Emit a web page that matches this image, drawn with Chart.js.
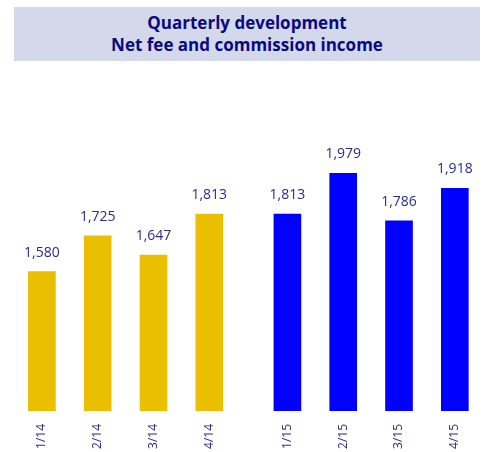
<!DOCTYPE html>
<html>
<head>
<meta charset="utf-8">
<script src="https://cdn.jsdelivr.net/npm/chart.js@4"></script>
<style>
    html, body { margin: 0; padding: 0; background: #fff; }
    #wrap { position: relative; width: 483px; height: 452px; }
    #titleBox {
        position: absolute; left: 14px; top: 7px; width: 466px; height: 54px;
        background: #d3d8ea; color: #0a0a80;
        font-family: "Open Sans", sans-serif; font-weight: bold; font-size: 17px;
        line-height: 22px; text-align: center;
        display: flex; flex-direction: column; justify-content: center;
    }
    canvas { position: absolute; left: 0; top: 0; }
</style>
</head>
<body>
<div id="wrap">
    <canvas id="feeChart" width="483" height="452"></canvas>
    <div id="titleBox"><div>Quarterly development</div><div>Net fee and commission income</div></div>
</div>
<script>
    const labels2014 = ['1/14', '2/14', '3/14', '4/14'];
    const labels2015 = ['1/15', '2/15', '3/15', '4/15'];
    const values2014 = [1580, 1725, 1647, 1813];
    const values2015 = [1813, 1979, 1786, 1918];

    const allLabels = labels2014.concat(labels2015);
    // the two years sit a bit further apart than the quarters
    const yearGap = 0.4;
    const slot = (i, year) => i + 1 + (year ? 4 + yearGap : 0);
    const positions = allLabels.map((_, i) => i < 4 ? slot(i, 0) : slot(i - 4, 1));

    const labelColor = '#2a2a8c';

    const valueLabels = {
        id: 'valueLabels',
        afterDatasetsDraw(chart) {
            const ctx = chart.ctx;
            ctx.save();
            ctx.font = '14px "Open Sans", sans-serif';
            ctx.fillStyle = labelColor;
            ctx.textAlign = 'center';
            ctx.textBaseline = 'middle';
            chart.data.datasets.forEach((ds, di) => {
                chart.getDatasetMeta(di).data.forEach((bar, i) => {
                    ctx.fillText(ds.data[i].y.toLocaleString('en-US'), bar.x, bar.y - 19);
                });
            });
            ctx.restore();
        }
    };

    new Chart(document.getElementById('feeChart'), {
        type: 'bar',
        data: {
            datasets: [{
                data: values2014.map((v, i) => ({ x: slot(i, 0), y: v })),
                backgroundColor: '#e9bf00'
            }, {
                data: values2015.map((v, i) => ({ x: slot(i, 1), y: v })),
                backgroundColor: '#0000ff'
            }]
        },
        options: {
            responsive: false,
            animation: false,
            grouped: false,
            barThickness: 27,
            layout: { padding: { left: 14, right: 1.4, top: 80, bottom: 0 } },
            plugins: { legend: { display: false }, tooltip: { enabled: false } },
            scales: {
                x: {
                    type: 'linear',
                    offset: false,
                    min: 0.5,
                    max: 8.88,
                    grid: { display: false },
                    border: { display: false },
                    afterBuildTicks: (scale) => {
                        scale.ticks = positions.map(v => ({ value: v }));
                    },
                    afterFit: (scale) => {
                        scale.height = 41;
                    },
                    ticks: {
                        autoSkip: false,
                        minRotation: 90,
                        maxRotation: 90,
                        padding: 5,
                        color: labelColor,
                        font: { family: '"Open Sans", sans-serif', size: 12 },
                        callback: (value, index) => allLabels[index]
                    }
                },
                y: {
                    display: false,
                    min: 1015,
                    max: 2357
                }
            }
        },
        plugins: [valueLabels]
    });
</script>
</body>
</html>
